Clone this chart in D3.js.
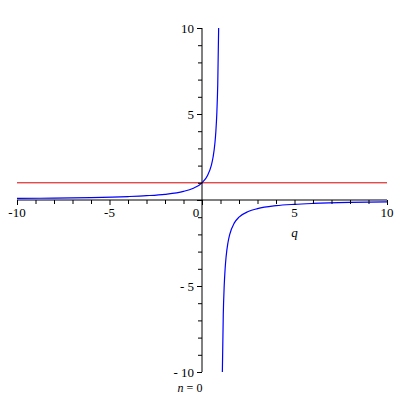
<!DOCTYPE html>
<html>
<head>
<meta charset="utf-8">
<script src="https://cdn.jsdelivr.net/npm/d3@7"></script>
<style>
  body { margin: 0; background: #fff; }
  text { font-family: "Liberation Serif", "Times New Roman", serif; font-size: 13px; fill: #000; }
</style>
</head>
<body>
<div id="chart"></div>
<script>
// left branch (q < 1)
const leftQ = [-10, -8, -6, -4, -3, -2, -1, -0.5, 0, 0.3, 0.5, 0.6, 0.7, 0.75, 0.8, 0.85, 0.9];
const leftY = [0.09, 0.11, 0.14, 0.2, 0.25, 0.33, 0.5, 0.67, 1, 1.43, 2, 2.5, 3.33, 4, 5, 6.67, 10];
// right branch (q > 1)
const rightQ = [1.1, 1.15, 1.2, 1.25, 1.3, 1.4, 1.5, 1.75, 2, 2.5, 3, 4, 5, 6, 8, 10];
const rightY = [-10, -6.67, -5, -4, -3.33, -2.5, -2, -1.33, -1, -0.67, -0.5, -0.33, -0.25, -0.2, -0.14, -0.11];
const hLineY = 1;
const xTicks = [-10, -5, 0, 5, 10];
const yTicks = [-10, -5, 5, 10];

const width = 400, height = 400;

const x = d3.scaleLinear().domain([-10, 10]).range([17, 387]);
const y = d3.scaleLinear().domain([-10, 10]).range([372, 28]);

const svg = d3.select("#chart")
  .append("svg")
  .attr("width", width)
  .attr("height", height);

// horizontal line y = 1
svg.append("line")
  .attr("x1", x(-10)).attr("x2", x(10))
  .attr("y1", y(hLineY)).attr("y2", y(hLineY))
  .attr("stroke", "#d00000")
  .attr("stroke-width", 1);

const line = d3.line()
  .x((d) => x(d[0]))
  .y((d) => y(d[1]))
  .curve(d3.curveMonotoneX);

[[leftQ, leftY], [rightQ, rightY]].forEach(([qs, ys]) => {
  svg.append("path")
    .datum(qs.map((q, i) => [q, ys[i]]))
    .attr("d", line)
    .attr("fill", "none")
    .attr("stroke", "#0000ff")
    .attr("stroke-width", 1.2);
});

// x axis, ticks pointing down
const xAxis = d3.axisBottom(x)
  .tickValues(d3.range(-10, 11, 1))
  .tickSize(4)
  .tickFormat("");
const gx = svg.append("g").attr("transform", `translate(0,${y(0)})`).call(xAxis);
gx.selectAll(".tick line").filter((d) => d % 5 === 0).attr("y2", 5);
gx.select(".domain").attr("d", `M${x(-10)},0H${x(10)}`);

// y axis, ticks pointing left
const yAxis = d3.axisLeft(y)
  .tickValues(d3.range(-10, 11, 1))
  .tickSize(4)
  .tickFormat("");
const gy = svg.append("g").attr("transform", `translate(${x(0)},0)`).call(yAxis);
gy.selectAll(".tick line").filter((d) => d % 5 === 0).attr("x2", -5);
gy.select(".domain").attr("d", `M0,${y(10)}V${y(-10)}`);

svg.selectAll(".domain, .tick line").attr("stroke", "#000").attr("stroke-width", 1);

// tick labels
svg.selectAll(".xlab")
  .data(xTicks)
  .enter().append("text")
  .attr("x", (d) => (d === 0 ? x(0) - 6 : x(d)))
  .attr("y", y(0) + 17)
  .attr("text-anchor", "middle")
  .text((d) => (d < 0 ? "-" + Math.abs(d) : d));

svg.selectAll(".ylab")
  .data(yTicks)
  .enter().append("text")
  .attr("x", x(0) - 8)
  .attr("y", (d) => y(d) + 5)
  .attr("text-anchor", "end")
  .text((d) => (d < 0 ? "- " + Math.abs(d) : d));

// axis title and caption
svg.append("text")
  .attr("x", x(5))
  .attr("y", y(0) + 37)
  .attr("text-anchor", "middle")
  .style("font-style", "italic")
  .text("q");

const cap = svg.append("text")
  .attr("x", x(0) - 12)
  .attr("y", 392)
  .attr("text-anchor", "middle")
  .style("font-size", "12px");
cap.append("tspan").style("font-style", "italic").text("n");
cap.append("tspan").text(" = 0");
</script>
</body>
</html>
